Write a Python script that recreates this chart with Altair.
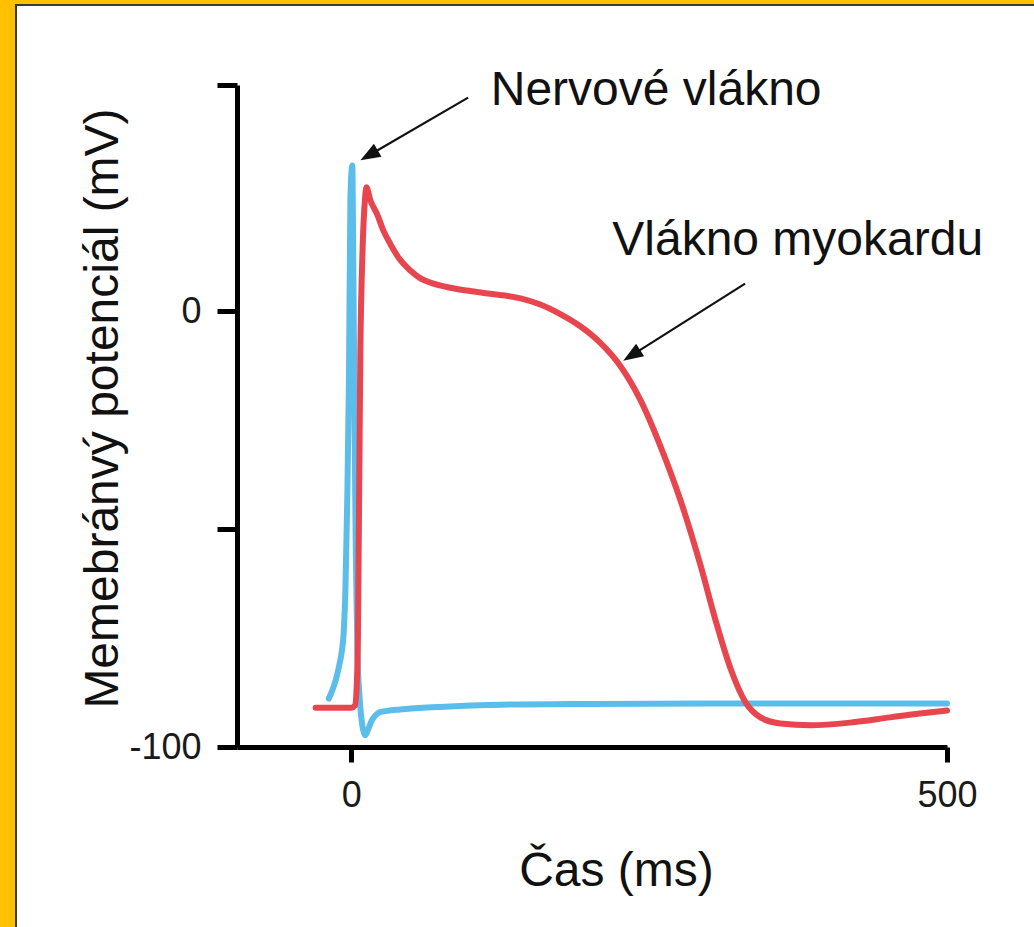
import altair as alt
import numpy as np
import pandas as pd

# Nerve fibre action potential: time (ms) and membrane potential (mV)
nerve_t = [-19, -16, -13, -10, -8, -6.5, -5, -3.5, -2, -0.8, 0.8, 1.5, 2.5, 3.7, 5, 7,
           9.5, 11.7, 14, 17, 20, 24, 30, 41, 60, 83, 125, 200, 300, 400, 500]
nerve_v = [-88.9, -87, -84.5, -81, -78, -74, -64, -44, -15, 26, 33.5, 15, -20, -55, -77, -89,
           -95.5, -97.3, -96, -94, -92.8, -92, -91.7, -91.4, -91, -90.7, -90.3, -90.1, -90, -90, -90]

# Cardiac muscle fibre action potential
myo_t = [-30, -15, 0, 3, 4.5, 5.5, 7.5, 9.5, 11.5, 12.6, 16, 21.5, 27, 32.7, 40, 49.5, 58, 69,
         82, 97, 110, 125, 142, 158.6, 175.4, 192.2, 209, 225.8, 242.6, 259.4, 276.2, 293,
         305.6, 318.2, 330.8, 343.4, 360.1, 385.3, 418.6, 452, 477, 500]
myo_v = [-91, -91, -91, -90.5, -86, -75, -10, 15, 26, 28.5, 25.5, 22.4, 18.5, 15.5, 12.2, 9.4,
         7.6, 6.4, 5.5, 4.8, 4.3, 3.8, 3.0, 1.6, -0.6, -3.4, -7.2, -12.5, -20.3, -30.9, -43.3,
         -58.2, -70.8, -81.9, -89.7, -93.2, -94.6, -95.0, -94.4, -93.2, -92.3, -91.6]

# Axis ticks
x_ticks = [0, 500]
y_ticks = [-100, -50, 0, 52]

# Annotation labels
label_text = ["Nervové vlákno", "Vlákno myokardu"]
label_t = [117, 219]
label_v = [47.3, 12.9]

# Annotation arrows: start point and tip
arrow_t0 = [98, 330.5]
arrow_v0 = [49.1, 6.4]
arrow_t1 = [7.6, 228.2]
arrow_v1 = [34.7, -11.3]

X_DOMAIN = [-96, 500]
Y_DOMAIN = [-100, 52]
W, H = 710, 662
FONT = "Liberation Sans"
BLUE = "#5BBDEA"
RED = "#E8464E"

px_x = W / (X_DOMAIN[1] - X_DOMAIN[0])
px_y = H / (Y_DOMAIN[1] - Y_DOMAIN[0])

curves = pd.concat([
    pd.DataFrame({"t": nerve_t, "v": nerve_v, "fibre": "nerve"}),
    pd.DataFrame({"t": myo_t, "v": myo_v, "fibre": "myo"}),
])

# arrow heads sit just behind the tip, rotated along the shaft
HEAD = 10.0
rows = []
for t0, v0, t1, v1 in zip(arrow_t0, arrow_v0, arrow_t1, arrow_v1):
    dx = (t1 - t0) * px_x
    dy = -(v1 - v0) * px_y
    L = np.hypot(dx, dy)
    ux, uy = dx / L, dy / L
    ct = t1 - ux * HEAD / px_x
    cv = v1 + uy * HEAD / px_y
    ang = (np.degrees(np.arctan2(ux, -uy)) + 360) % 360
    rows.append({"t0": t0, "v0": v0, "t1": ct, "v1": cv, "angle": float(ang)})
arrows = pd.DataFrame(rows)
labels = pd.DataFrame({"t": label_t, "v": label_v, "text": label_text})

x_axis = alt.Axis(
    values=x_ticks, title="Čas (ms)", grid=False, zindex=2, labelFlush=False,
    domainColor="black", domainWidth=5, tickColor="black", tickWidth=5, tickSize=15,
    labelFont=FONT, labelFontSize=36, labelColor="#1a1a1a", labelPadding=16,
    titleFont=FONT, titleFontSize=48, titleFontWeight="normal", titleColor="#111",
    titleX=379, titleY=138, titleAlign="center", titleBaseline="alphabetic",
)
y_axis = alt.Axis(
    values=y_ticks, title="Memebránvý potenciál (mV)", grid=False, zindex=2, labelFlush=False,
    labelExpr="datum.value == 0 ? '0' : (datum.value == -100 ? '-100' : '')",
    domainColor="black", domainWidth=5, tickColor="black", tickWidth=5, tickSize=20,
    labelFont=FONT, labelFontSize=36, labelColor="#1a1a1a", labelPadding=16,
    titleFont=FONT, titleFontSize=48, titleFontWeight="normal", titleColor="#111",
    titleAngle=270, titleX=-120, titleY=323, titleAlign="center", titleBaseline="alphabetic",
)


def X(field):
    return alt.X(field, type="quantitative",
                 scale=alt.Scale(domain=X_DOMAIN, nice=False, zero=False), axis=x_axis)


def Y(field):
    return alt.Y(field, type="quantitative",
                 scale=alt.Scale(domain=Y_DOMAIN, nice=False, zero=False), axis=y_axis)


frame = alt.Chart(pd.DataFrame({"k": [0]})).mark_rect(
    fill="white", stroke="#3a3a3a", strokeWidth=2
).encode(x=alt.value(-221), x2=alt.value(840), y=alt.value(-80), y2=alt.value(900))

lines = alt.Chart(curves).mark_line(
    strokeWidth=6, strokeCap="round", strokeJoin="round", interpolate="monotone"
).encode(
    x=X("t"), y=Y("v"),
    color=alt.Color("fibre:N", scale=alt.Scale(domain=["nerve", "myo"], range=[BLUE, RED]),
                    legend=None),
    order=alt.Order("t:Q"),
)

shafts = alt.Chart(arrows).mark_rule(color="#111", strokeWidth=2.2).encode(
    x=X("t0"), y=Y("v0"), x2="t1", y2="v1"
)

heads = alt.Chart(arrows).mark_point(
    shape="M0,-1L-0.75,1L0.75,1Z", filled=True, color="#111", size=400, opacity=1
).encode(x=X("t1"), y=Y("v1"), angle=alt.Angle("angle:Q", scale=None))

texts = alt.Chart(labels).mark_text(
    font=FONT, fontSize=48, color="#111", align="left", baseline="alphabetic"
).encode(x=X("t"), y=Y("v"), text="text:N")

chart = alt.layer(frame, lines, shafts, heads, texts).properties(
    width=W, height=H,
    autosize=alt.AutoSizeParams(type="none"),
    padding={"left": 237, "top": 85, "right": 87, "bottom": 180},
).configure(background="#FFC000").configure_view(stroke="transparent")

chart.save("out.html", embed_options={"renderer": "svg", "actions": False})
